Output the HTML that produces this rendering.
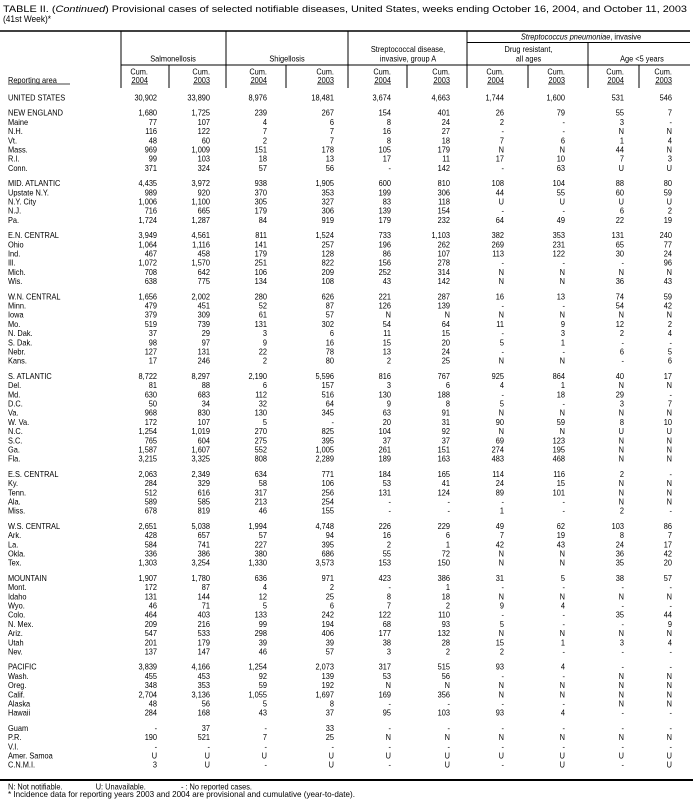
<!DOCTYPE html>
<html><head><meta charset="utf-8"><style>
html,body{margin:0;padding:0;background:#fff;}
svg{display:block;font-family:"Liberation Sans",Arial,sans-serif;fill:#000;}
.d{text-anchor:end;font-size:8.5px;}
.l{font-size:8.5px;}
.h{font-size:8.5px;text-anchor:middle;}
</style></head><body>
<svg width="693" height="804" viewBox="0 0 693 804" xmlns="http://www.w3.org/2000/svg">
<text x="3" y="12" font-size="9.5" textLength="684" lengthAdjust="spacingAndGlyphs">TABLE II. (<tspan font-style="italic">Continued</tspan>) Provisional cases of selected notifiable diseases, United States, weeks ending October 16, 2004, and October 11, 2003</text>
<text x="3" y="22" font-size="9.5" textLength="48" lengthAdjust="spacingAndGlyphs">(41st Week)*</text>
<g stroke="#000" fill="none">
<line x1="0" y1="31" x2="690" y2="31" stroke-width="1.5"/>
<line x1="467" y1="42.5" x2="690" y2="42.5" stroke-width="1"/>
<line x1="121" y1="65" x2="690" y2="65" stroke-width="1"/>
<line x1="121" y1="31" x2="121" y2="88"/>
<line x1="226" y1="31" x2="226" y2="88"/>
<line x1="348" y1="31" x2="348" y2="88"/>
<line x1="467" y1="31" x2="467" y2="88"/>
<line x1="588" y1="42.5" x2="588" y2="88"/>
<line x1="169" y1="65" x2="169" y2="88"/>
<line x1="286" y1="65" x2="286" y2="88"/>
<line x1="407" y1="65" x2="407" y2="88"/>
<line x1="528" y1="65" x2="528" y2="88"/>
<line x1="639" y1="65" x2="639" y2="88"/>
<line x1="0" y1="780" x2="693" y2="780" stroke-width="2"/>
<g stroke-width="0.8">
<line x1="8" y1="84" x2="70" y2="84"/>
<line x1="131" y1="84" x2="148" y2="84"/>
<line x1="193" y1="84" x2="210" y2="84"/>
<line x1="250" y1="84" x2="267" y2="84"/>
<line x1="317" y1="84" x2="334" y2="84"/>
<line x1="374" y1="84" x2="391" y2="84"/>
<line x1="433" y1="84" x2="450" y2="84"/>
<line x1="487" y1="84" x2="504" y2="84"/>
<line x1="548" y1="84" x2="565" y2="84"/>
<line x1="607" y1="84" x2="624" y2="84"/>
<line x1="655" y1="84" x2="672" y2="84"/>
</g>
</g>
<g transform="scale(0.87,1)">
<text class="h" x="667.8" y="39.5"><tspan font-style="italic">Streptococcus pneumoniae</tspan>, invasive</text>
<text class="h" x="469" y="52">Streptococcal disease,</text>
<text class="h" x="469" y="61.5">invasive, group A</text>
<text class="h" x="607.5" y="52">Drug resistant,</text>
<text class="h" x="607.5" y="61.5">all ages</text>
<text class="h" x="198.9" y="61.5">Salmonellosis</text>
<text class="h" x="329.9" y="61.5">Shigellosis</text>
<text class="h" x="737.9" y="61.5">Age &lt;5 years</text>
<text class="d" y="74.5"><tspan x="170.1">Cum.</tspan><tspan x="241.4">Cum.</tspan><tspan x="306.9">Cum.</tspan><tspan x="383.9">Cum.</tspan><tspan x="449.4">Cum.</tspan><tspan x="517.2">Cum.</tspan><tspan x="579.3">Cum.</tspan><tspan x="649.4">Cum.</tspan><tspan x="717.2">Cum.</tspan><tspan x="772.4">Cum.</tspan></text>
<text class="d" y="83"><tspan x="170.1">2004</tspan><tspan x="241.4">2003</tspan><tspan x="306.9">2004</tspan><tspan x="383.9">2003</tspan><tspan x="449.4">2004</tspan><tspan x="517.2">2003</tspan><tspan x="579.3">2004</tspan><tspan x="649.4">2003</tspan><tspan x="717.2">2004</tspan><tspan x="772.4">2003</tspan></text>
<text class="l" x="9.2" y="83">Reporting area</text>

<g class="l">
<text x="9.2" y="100.5">UNITED STATES</text>
<text x="9.2" y="115.7">NEW ENGLAND</text>
<text x="9.2" y="124.9">Maine</text>
<text x="9.2" y="134.1">N.H.</text>
<text x="9.2" y="143.3">Vt.</text>
<text x="9.2" y="152.5">Mass.</text>
<text x="9.2" y="161.7">R.I.</text>
<text x="9.2" y="170.9">Conn.</text>
<text x="9.2" y="186.1">MID. ATLANTIC</text>
<text x="9.2" y="195.3">Upstate N.Y.</text>
<text x="9.2" y="204.5">N.Y. City</text>
<text x="9.2" y="213.7">N.J.</text>
<text x="9.2" y="222.9">Pa.</text>
<text x="9.2" y="238.1">E.N. CENTRAL</text>
<text x="9.2" y="247.3">Ohio</text>
<text x="9.2" y="256.5">Ind.</text>
<text x="9.2" y="265.7">Ill.</text>
<text x="9.2" y="274.9">Mich.</text>
<text x="9.2" y="284.1">Wis.</text>
<text x="9.2" y="299.3">W.N. CENTRAL</text>
<text x="9.2" y="308.5">Minn.</text>
<text x="9.2" y="317.7">Iowa</text>
<text x="9.2" y="326.9">Mo.</text>
<text x="9.2" y="336.1">N. Dak.</text>
<text x="9.2" y="345.3">S. Dak.</text>
<text x="9.2" y="354.5">Nebr.</text>
<text x="9.2" y="363.7">Kans.</text>
<text x="9.2" y="378.9">S. ATLANTIC</text>
<text x="9.2" y="388.1">Del.</text>
<text x="9.2" y="397.3">Md.</text>
<text x="9.2" y="406.5">D.C.</text>
<text x="9.2" y="415.7">Va.</text>
<text x="9.2" y="424.9">W. Va.</text>
<text x="9.2" y="434.1">N.C.</text>
<text x="9.2" y="443.3">S.C.</text>
<text x="9.2" y="452.5">Ga.</text>
<text x="9.2" y="461.7">Fla.</text>
<text x="9.2" y="476.9">E.S. CENTRAL</text>
<text x="9.2" y="486.1">Ky.</text>
<text x="9.2" y="495.3">Tenn.</text>
<text x="9.2" y="504.5">Ala.</text>
<text x="9.2" y="513.7">Miss.</text>
<text x="9.2" y="528.9">W.S. CENTRAL</text>
<text x="9.2" y="538.1">Ark.</text>
<text x="9.2" y="547.3">La.</text>
<text x="9.2" y="556.5">Okla.</text>
<text x="9.2" y="565.7">Tex.</text>
<text x="9.2" y="580.9">MOUNTAIN</text>
<text x="9.2" y="590.1">Mont.</text>
<text x="9.2" y="599.3">Idaho</text>
<text x="9.2" y="608.5">Wyo.</text>
<text x="9.2" y="617.7">Colo.</text>
<text x="9.2" y="626.9">N. Mex.</text>
<text x="9.2" y="636.1">Ariz.</text>
<text x="9.2" y="645.3">Utah</text>
<text x="9.2" y="654.5">Nev.</text>
<text x="9.2" y="669.7">PACIFIC</text>
<text x="9.2" y="678.9">Wash.</text>
<text x="9.2" y="688.1">Oreg.</text>
<text x="9.2" y="697.3">Calif.</text>
<text x="9.2" y="706.5">Alaska</text>
<text x="9.2" y="715.7">Hawaii</text>
<text x="9.2" y="730.9">Guam</text>
<text x="9.2" y="740.1">P.R.</text>
<text x="9.2" y="749.3">V.I.</text>
<text x="9.2" y="758.5">Amer. Samoa</text>
<text x="9.2" y="767.7">C.N.M.I.</text>
</g>

<g class="d">
<text y="100.5"><tspan x="180.5">30,902</tspan><tspan x="241.4">33,890</tspan><tspan x="306.9">8,976</tspan><tspan x="383.9">18,481</tspan><tspan x="449.4">3,674</tspan><tspan x="517.2">4,663</tspan><tspan x="579.3">1,744</tspan><tspan x="649.4">1,600</tspan><tspan x="717.2">531</tspan><tspan x="772.4">546</tspan></text>
<text y="115.7"><tspan x="180.5">1,680</tspan><tspan x="241.4">1,725</tspan><tspan x="306.9">239</tspan><tspan x="383.9">267</tspan><tspan x="449.4">154</tspan><tspan x="517.2">401</tspan><tspan x="579.3">26</tspan><tspan x="649.4">79</tspan><tspan x="717.2">55</tspan><tspan x="772.4">7</tspan></text>
<text y="124.9"><tspan x="180.5">77</tspan><tspan x="241.4">107</tspan><tspan x="306.9">4</tspan><tspan x="383.9">6</tspan><tspan x="449.4">8</tspan><tspan x="517.2">24</tspan><tspan x="579.3">2</tspan><tspan x="649.4">-</tspan><tspan x="717.2">3</tspan><tspan x="772.4">-</tspan></text>
<text y="134.1"><tspan x="180.5">116</tspan><tspan x="241.4">122</tspan><tspan x="306.9">7</tspan><tspan x="383.9">7</tspan><tspan x="449.4">16</tspan><tspan x="517.2">27</tspan><tspan x="579.3">-</tspan><tspan x="649.4">-</tspan><tspan x="717.2">N</tspan><tspan x="772.4">N</tspan></text>
<text y="143.3"><tspan x="180.5">48</tspan><tspan x="241.4">60</tspan><tspan x="306.9">2</tspan><tspan x="383.9">7</tspan><tspan x="449.4">8</tspan><tspan x="517.2">18</tspan><tspan x="579.3">7</tspan><tspan x="649.4">6</tspan><tspan x="717.2">1</tspan><tspan x="772.4">4</tspan></text>
<text y="152.5"><tspan x="180.5">969</tspan><tspan x="241.4">1,009</tspan><tspan x="306.9">151</tspan><tspan x="383.9">178</tspan><tspan x="449.4">105</tspan><tspan x="517.2">179</tspan><tspan x="579.3">N</tspan><tspan x="649.4">N</tspan><tspan x="717.2">44</tspan><tspan x="772.4">N</tspan></text>
<text y="161.7"><tspan x="180.5">99</tspan><tspan x="241.4">103</tspan><tspan x="306.9">18</tspan><tspan x="383.9">13</tspan><tspan x="449.4">17</tspan><tspan x="517.2">11</tspan><tspan x="579.3">17</tspan><tspan x="649.4">10</tspan><tspan x="717.2">7</tspan><tspan x="772.4">3</tspan></text>
<text y="170.9"><tspan x="180.5">371</tspan><tspan x="241.4">324</tspan><tspan x="306.9">57</tspan><tspan x="383.9">56</tspan><tspan x="449.4">-</tspan><tspan x="517.2">142</tspan><tspan x="579.3">-</tspan><tspan x="649.4">63</tspan><tspan x="717.2">U</tspan><tspan x="772.4">U</tspan></text>
<text y="186.1"><tspan x="180.5">4,435</tspan><tspan x="241.4">3,972</tspan><tspan x="306.9">938</tspan><tspan x="383.9">1,905</tspan><tspan x="449.4">600</tspan><tspan x="517.2">810</tspan><tspan x="579.3">108</tspan><tspan x="649.4">104</tspan><tspan x="717.2">88</tspan><tspan x="772.4">80</tspan></text>
<text y="195.3"><tspan x="180.5">989</tspan><tspan x="241.4">920</tspan><tspan x="306.9">370</tspan><tspan x="383.9">353</tspan><tspan x="449.4">199</tspan><tspan x="517.2">306</tspan><tspan x="579.3">44</tspan><tspan x="649.4">55</tspan><tspan x="717.2">60</tspan><tspan x="772.4">59</tspan></text>
<text y="204.5"><tspan x="180.5">1,006</tspan><tspan x="241.4">1,100</tspan><tspan x="306.9">305</tspan><tspan x="383.9">327</tspan><tspan x="449.4">83</tspan><tspan x="517.2">118</tspan><tspan x="579.3">U</tspan><tspan x="649.4">U</tspan><tspan x="717.2">U</tspan><tspan x="772.4">U</tspan></text>
<text y="213.7"><tspan x="180.5">716</tspan><tspan x="241.4">665</tspan><tspan x="306.9">179</tspan><tspan x="383.9">306</tspan><tspan x="449.4">139</tspan><tspan x="517.2">154</tspan><tspan x="579.3">-</tspan><tspan x="649.4">-</tspan><tspan x="717.2">6</tspan><tspan x="772.4">2</tspan></text>
<text y="222.9"><tspan x="180.5">1,724</tspan><tspan x="241.4">1,287</tspan><tspan x="306.9">84</tspan><tspan x="383.9">919</tspan><tspan x="449.4">179</tspan><tspan x="517.2">232</tspan><tspan x="579.3">64</tspan><tspan x="649.4">49</tspan><tspan x="717.2">22</tspan><tspan x="772.4">19</tspan></text>
<text y="238.1"><tspan x="180.5">3,949</tspan><tspan x="241.4">4,561</tspan><tspan x="306.9">811</tspan><tspan x="383.9">1,524</tspan><tspan x="449.4">733</tspan><tspan x="517.2">1,103</tspan><tspan x="579.3">382</tspan><tspan x="649.4">353</tspan><tspan x="717.2">131</tspan><tspan x="772.4">240</tspan></text>
<text y="247.3"><tspan x="180.5">1,064</tspan><tspan x="241.4">1,116</tspan><tspan x="306.9">141</tspan><tspan x="383.9">257</tspan><tspan x="449.4">196</tspan><tspan x="517.2">262</tspan><tspan x="579.3">269</tspan><tspan x="649.4">231</tspan><tspan x="717.2">65</tspan><tspan x="772.4">77</tspan></text>
<text y="256.5"><tspan x="180.5">467</tspan><tspan x="241.4">458</tspan><tspan x="306.9">179</tspan><tspan x="383.9">128</tspan><tspan x="449.4">86</tspan><tspan x="517.2">107</tspan><tspan x="579.3">113</tspan><tspan x="649.4">122</tspan><tspan x="717.2">30</tspan><tspan x="772.4">24</tspan></text>
<text y="265.7"><tspan x="180.5">1,072</tspan><tspan x="241.4">1,570</tspan><tspan x="306.9">251</tspan><tspan x="383.9">822</tspan><tspan x="449.4">156</tspan><tspan x="517.2">278</tspan><tspan x="579.3">-</tspan><tspan x="649.4">-</tspan><tspan x="717.2">-</tspan><tspan x="772.4">96</tspan></text>
<text y="274.9"><tspan x="180.5">708</tspan><tspan x="241.4">642</tspan><tspan x="306.9">106</tspan><tspan x="383.9">209</tspan><tspan x="449.4">252</tspan><tspan x="517.2">314</tspan><tspan x="579.3">N</tspan><tspan x="649.4">N</tspan><tspan x="717.2">N</tspan><tspan x="772.4">N</tspan></text>
<text y="284.1"><tspan x="180.5">638</tspan><tspan x="241.4">775</tspan><tspan x="306.9">134</tspan><tspan x="383.9">108</tspan><tspan x="449.4">43</tspan><tspan x="517.2">142</tspan><tspan x="579.3">N</tspan><tspan x="649.4">N</tspan><tspan x="717.2">36</tspan><tspan x="772.4">43</tspan></text>
<text y="299.3"><tspan x="180.5">1,656</tspan><tspan x="241.4">2,002</tspan><tspan x="306.9">280</tspan><tspan x="383.9">626</tspan><tspan x="449.4">221</tspan><tspan x="517.2">287</tspan><tspan x="579.3">16</tspan><tspan x="649.4">13</tspan><tspan x="717.2">74</tspan><tspan x="772.4">59</tspan></text>
<text y="308.5"><tspan x="180.5">479</tspan><tspan x="241.4">451</tspan><tspan x="306.9">52</tspan><tspan x="383.9">87</tspan><tspan x="449.4">126</tspan><tspan x="517.2">139</tspan><tspan x="579.3">-</tspan><tspan x="649.4">-</tspan><tspan x="717.2">54</tspan><tspan x="772.4">42</tspan></text>
<text y="317.7"><tspan x="180.5">379</tspan><tspan x="241.4">309</tspan><tspan x="306.9">61</tspan><tspan x="383.9">57</tspan><tspan x="449.4">N</tspan><tspan x="517.2">N</tspan><tspan x="579.3">N</tspan><tspan x="649.4">N</tspan><tspan x="717.2">N</tspan><tspan x="772.4">N</tspan></text>
<text y="326.9"><tspan x="180.5">519</tspan><tspan x="241.4">739</tspan><tspan x="306.9">131</tspan><tspan x="383.9">302</tspan><tspan x="449.4">54</tspan><tspan x="517.2">64</tspan><tspan x="579.3">11</tspan><tspan x="649.4">9</tspan><tspan x="717.2">12</tspan><tspan x="772.4">2</tspan></text>
<text y="336.1"><tspan x="180.5">37</tspan><tspan x="241.4">29</tspan><tspan x="306.9">3</tspan><tspan x="383.9">6</tspan><tspan x="449.4">11</tspan><tspan x="517.2">15</tspan><tspan x="579.3">-</tspan><tspan x="649.4">3</tspan><tspan x="717.2">2</tspan><tspan x="772.4">4</tspan></text>
<text y="345.3"><tspan x="180.5">98</tspan><tspan x="241.4">97</tspan><tspan x="306.9">9</tspan><tspan x="383.9">16</tspan><tspan x="449.4">15</tspan><tspan x="517.2">20</tspan><tspan x="579.3">5</tspan><tspan x="649.4">1</tspan><tspan x="717.2">-</tspan><tspan x="772.4">-</tspan></text>
<text y="354.5"><tspan x="180.5">127</tspan><tspan x="241.4">131</tspan><tspan x="306.9">22</tspan><tspan x="383.9">78</tspan><tspan x="449.4">13</tspan><tspan x="517.2">24</tspan><tspan x="579.3">-</tspan><tspan x="649.4">-</tspan><tspan x="717.2">6</tspan><tspan x="772.4">5</tspan></text>
<text y="363.7"><tspan x="180.5">17</tspan><tspan x="241.4">246</tspan><tspan x="306.9">2</tspan><tspan x="383.9">80</tspan><tspan x="449.4">2</tspan><tspan x="517.2">25</tspan><tspan x="579.3">N</tspan><tspan x="649.4">N</tspan><tspan x="717.2">-</tspan><tspan x="772.4">6</tspan></text>
<text y="378.9"><tspan x="180.5">8,722</tspan><tspan x="241.4">8,297</tspan><tspan x="306.9">2,190</tspan><tspan x="383.9">5,596</tspan><tspan x="449.4">816</tspan><tspan x="517.2">767</tspan><tspan x="579.3">925</tspan><tspan x="649.4">864</tspan><tspan x="717.2">40</tspan><tspan x="772.4">17</tspan></text>
<text y="388.1"><tspan x="180.5">81</tspan><tspan x="241.4">88</tspan><tspan x="306.9">6</tspan><tspan x="383.9">157</tspan><tspan x="449.4">3</tspan><tspan x="517.2">6</tspan><tspan x="579.3">4</tspan><tspan x="649.4">1</tspan><tspan x="717.2">N</tspan><tspan x="772.4">N</tspan></text>
<text y="397.3"><tspan x="180.5">630</tspan><tspan x="241.4">683</tspan><tspan x="306.9">112</tspan><tspan x="383.9">516</tspan><tspan x="449.4">130</tspan><tspan x="517.2">188</tspan><tspan x="579.3">-</tspan><tspan x="649.4">18</tspan><tspan x="717.2">29</tspan><tspan x="772.4">-</tspan></text>
<text y="406.5"><tspan x="180.5">50</tspan><tspan x="241.4">34</tspan><tspan x="306.9">32</tspan><tspan x="383.9">64</tspan><tspan x="449.4">9</tspan><tspan x="517.2">8</tspan><tspan x="579.3">5</tspan><tspan x="649.4">-</tspan><tspan x="717.2">3</tspan><tspan x="772.4">7</tspan></text>
<text y="415.7"><tspan x="180.5">968</tspan><tspan x="241.4">830</tspan><tspan x="306.9">130</tspan><tspan x="383.9">345</tspan><tspan x="449.4">63</tspan><tspan x="517.2">91</tspan><tspan x="579.3">N</tspan><tspan x="649.4">N</tspan><tspan x="717.2">N</tspan><tspan x="772.4">N</tspan></text>
<text y="424.9"><tspan x="180.5">172</tspan><tspan x="241.4">107</tspan><tspan x="306.9">5</tspan><tspan x="383.9">-</tspan><tspan x="449.4">20</tspan><tspan x="517.2">31</tspan><tspan x="579.3">90</tspan><tspan x="649.4">59</tspan><tspan x="717.2">8</tspan><tspan x="772.4">10</tspan></text>
<text y="434.1"><tspan x="180.5">1,254</tspan><tspan x="241.4">1,019</tspan><tspan x="306.9">270</tspan><tspan x="383.9">825</tspan><tspan x="449.4">104</tspan><tspan x="517.2">92</tspan><tspan x="579.3">N</tspan><tspan x="649.4">N</tspan><tspan x="717.2">U</tspan><tspan x="772.4">U</tspan></text>
<text y="443.3"><tspan x="180.5">765</tspan><tspan x="241.4">604</tspan><tspan x="306.9">275</tspan><tspan x="383.9">395</tspan><tspan x="449.4">37</tspan><tspan x="517.2">37</tspan><tspan x="579.3">69</tspan><tspan x="649.4">123</tspan><tspan x="717.2">N</tspan><tspan x="772.4">N</tspan></text>
<text y="452.5"><tspan x="180.5">1,587</tspan><tspan x="241.4">1,607</tspan><tspan x="306.9">552</tspan><tspan x="383.9">1,005</tspan><tspan x="449.4">261</tspan><tspan x="517.2">151</tspan><tspan x="579.3">274</tspan><tspan x="649.4">195</tspan><tspan x="717.2">N</tspan><tspan x="772.4">N</tspan></text>
<text y="461.7"><tspan x="180.5">3,215</tspan><tspan x="241.4">3,325</tspan><tspan x="306.9">808</tspan><tspan x="383.9">2,289</tspan><tspan x="449.4">189</tspan><tspan x="517.2">163</tspan><tspan x="579.3">483</tspan><tspan x="649.4">468</tspan><tspan x="717.2">N</tspan><tspan x="772.4">N</tspan></text>
<text y="476.9"><tspan x="180.5">2,063</tspan><tspan x="241.4">2,349</tspan><tspan x="306.9">634</tspan><tspan x="383.9">771</tspan><tspan x="449.4">184</tspan><tspan x="517.2">165</tspan><tspan x="579.3">114</tspan><tspan x="649.4">116</tspan><tspan x="717.2">2</tspan><tspan x="772.4">-</tspan></text>
<text y="486.1"><tspan x="180.5">284</tspan><tspan x="241.4">329</tspan><tspan x="306.9">58</tspan><tspan x="383.9">106</tspan><tspan x="449.4">53</tspan><tspan x="517.2">41</tspan><tspan x="579.3">24</tspan><tspan x="649.4">15</tspan><tspan x="717.2">N</tspan><tspan x="772.4">N</tspan></text>
<text y="495.3"><tspan x="180.5">512</tspan><tspan x="241.4">616</tspan><tspan x="306.9">317</tspan><tspan x="383.9">256</tspan><tspan x="449.4">131</tspan><tspan x="517.2">124</tspan><tspan x="579.3">89</tspan><tspan x="649.4">101</tspan><tspan x="717.2">N</tspan><tspan x="772.4">N</tspan></text>
<text y="504.5"><tspan x="180.5">589</tspan><tspan x="241.4">585</tspan><tspan x="306.9">213</tspan><tspan x="383.9">254</tspan><tspan x="449.4">-</tspan><tspan x="517.2">-</tspan><tspan x="579.3">-</tspan><tspan x="649.4">-</tspan><tspan x="717.2">N</tspan><tspan x="772.4">N</tspan></text>
<text y="513.7"><tspan x="180.5">678</tspan><tspan x="241.4">819</tspan><tspan x="306.9">46</tspan><tspan x="383.9">155</tspan><tspan x="449.4">-</tspan><tspan x="517.2">-</tspan><tspan x="579.3">1</tspan><tspan x="649.4">-</tspan><tspan x="717.2">2</tspan><tspan x="772.4">-</tspan></text>
<text y="528.9"><tspan x="180.5">2,651</tspan><tspan x="241.4">5,038</tspan><tspan x="306.9">1,994</tspan><tspan x="383.9">4,748</tspan><tspan x="449.4">226</tspan><tspan x="517.2">229</tspan><tspan x="579.3">49</tspan><tspan x="649.4">62</tspan><tspan x="717.2">103</tspan><tspan x="772.4">86</tspan></text>
<text y="538.1"><tspan x="180.5">428</tspan><tspan x="241.4">657</tspan><tspan x="306.9">57</tspan><tspan x="383.9">94</tspan><tspan x="449.4">16</tspan><tspan x="517.2">6</tspan><tspan x="579.3">7</tspan><tspan x="649.4">19</tspan><tspan x="717.2">8</tspan><tspan x="772.4">7</tspan></text>
<text y="547.3"><tspan x="180.5">584</tspan><tspan x="241.4">741</tspan><tspan x="306.9">227</tspan><tspan x="383.9">395</tspan><tspan x="449.4">2</tspan><tspan x="517.2">1</tspan><tspan x="579.3">42</tspan><tspan x="649.4">43</tspan><tspan x="717.2">24</tspan><tspan x="772.4">17</tspan></text>
<text y="556.5"><tspan x="180.5">336</tspan><tspan x="241.4">386</tspan><tspan x="306.9">380</tspan><tspan x="383.9">686</tspan><tspan x="449.4">55</tspan><tspan x="517.2">72</tspan><tspan x="579.3">N</tspan><tspan x="649.4">N</tspan><tspan x="717.2">36</tspan><tspan x="772.4">42</tspan></text>
<text y="565.7"><tspan x="180.5">1,303</tspan><tspan x="241.4">3,254</tspan><tspan x="306.9">1,330</tspan><tspan x="383.9">3,573</tspan><tspan x="449.4">153</tspan><tspan x="517.2">150</tspan><tspan x="579.3">N</tspan><tspan x="649.4">N</tspan><tspan x="717.2">35</tspan><tspan x="772.4">20</tspan></text>
<text y="580.9"><tspan x="180.5">1,907</tspan><tspan x="241.4">1,780</tspan><tspan x="306.9">636</tspan><tspan x="383.9">971</tspan><tspan x="449.4">423</tspan><tspan x="517.2">386</tspan><tspan x="579.3">31</tspan><tspan x="649.4">5</tspan><tspan x="717.2">38</tspan><tspan x="772.4">57</tspan></text>
<text y="590.1"><tspan x="180.5">172</tspan><tspan x="241.4">87</tspan><tspan x="306.9">4</tspan><tspan x="383.9">2</tspan><tspan x="449.4">-</tspan><tspan x="517.2">1</tspan><tspan x="579.3">-</tspan><tspan x="649.4">-</tspan><tspan x="717.2">-</tspan><tspan x="772.4">-</tspan></text>
<text y="599.3"><tspan x="180.5">131</tspan><tspan x="241.4">144</tspan><tspan x="306.9">12</tspan><tspan x="383.9">25</tspan><tspan x="449.4">8</tspan><tspan x="517.2">18</tspan><tspan x="579.3">N</tspan><tspan x="649.4">N</tspan><tspan x="717.2">N</tspan><tspan x="772.4">N</tspan></text>
<text y="608.5"><tspan x="180.5">46</tspan><tspan x="241.4">71</tspan><tspan x="306.9">5</tspan><tspan x="383.9">6</tspan><tspan x="449.4">7</tspan><tspan x="517.2">2</tspan><tspan x="579.3">9</tspan><tspan x="649.4">4</tspan><tspan x="717.2">-</tspan><tspan x="772.4">-</tspan></text>
<text y="617.7"><tspan x="180.5">464</tspan><tspan x="241.4">403</tspan><tspan x="306.9">133</tspan><tspan x="383.9">242</tspan><tspan x="449.4">122</tspan><tspan x="517.2">110</tspan><tspan x="579.3">-</tspan><tspan x="649.4">-</tspan><tspan x="717.2">35</tspan><tspan x="772.4">44</tspan></text>
<text y="626.9"><tspan x="180.5">209</tspan><tspan x="241.4">216</tspan><tspan x="306.9">99</tspan><tspan x="383.9">194</tspan><tspan x="449.4">68</tspan><tspan x="517.2">93</tspan><tspan x="579.3">5</tspan><tspan x="649.4">-</tspan><tspan x="717.2">-</tspan><tspan x="772.4">9</tspan></text>
<text y="636.1"><tspan x="180.5">547</tspan><tspan x="241.4">533</tspan><tspan x="306.9">298</tspan><tspan x="383.9">406</tspan><tspan x="449.4">177</tspan><tspan x="517.2">132</tspan><tspan x="579.3">N</tspan><tspan x="649.4">N</tspan><tspan x="717.2">N</tspan><tspan x="772.4">N</tspan></text>
<text y="645.3"><tspan x="180.5">201</tspan><tspan x="241.4">179</tspan><tspan x="306.9">39</tspan><tspan x="383.9">39</tspan><tspan x="449.4">38</tspan><tspan x="517.2">28</tspan><tspan x="579.3">15</tspan><tspan x="649.4">1</tspan><tspan x="717.2">3</tspan><tspan x="772.4">4</tspan></text>
<text y="654.5"><tspan x="180.5">137</tspan><tspan x="241.4">147</tspan><tspan x="306.9">46</tspan><tspan x="383.9">57</tspan><tspan x="449.4">3</tspan><tspan x="517.2">2</tspan><tspan x="579.3">2</tspan><tspan x="649.4">-</tspan><tspan x="717.2">-</tspan><tspan x="772.4">-</tspan></text>
<text y="669.7"><tspan x="180.5">3,839</tspan><tspan x="241.4">4,166</tspan><tspan x="306.9">1,254</tspan><tspan x="383.9">2,073</tspan><tspan x="449.4">317</tspan><tspan x="517.2">515</tspan><tspan x="579.3">93</tspan><tspan x="649.4">4</tspan><tspan x="717.2">-</tspan><tspan x="772.4">-</tspan></text>
<text y="678.9"><tspan x="180.5">455</tspan><tspan x="241.4">453</tspan><tspan x="306.9">92</tspan><tspan x="383.9">139</tspan><tspan x="449.4">53</tspan><tspan x="517.2">56</tspan><tspan x="579.3">-</tspan><tspan x="649.4">-</tspan><tspan x="717.2">N</tspan><tspan x="772.4">N</tspan></text>
<text y="688.1"><tspan x="180.5">348</tspan><tspan x="241.4">353</tspan><tspan x="306.9">59</tspan><tspan x="383.9">192</tspan><tspan x="449.4">N</tspan><tspan x="517.2">N</tspan><tspan x="579.3">N</tspan><tspan x="649.4">N</tspan><tspan x="717.2">N</tspan><tspan x="772.4">N</tspan></text>
<text y="697.3"><tspan x="180.5">2,704</tspan><tspan x="241.4">3,136</tspan><tspan x="306.9">1,055</tspan><tspan x="383.9">1,697</tspan><tspan x="449.4">169</tspan><tspan x="517.2">356</tspan><tspan x="579.3">N</tspan><tspan x="649.4">N</tspan><tspan x="717.2">N</tspan><tspan x="772.4">N</tspan></text>
<text y="706.5"><tspan x="180.5">48</tspan><tspan x="241.4">56</tspan><tspan x="306.9">5</tspan><tspan x="383.9">8</tspan><tspan x="449.4">-</tspan><tspan x="517.2">-</tspan><tspan x="579.3">-</tspan><tspan x="649.4">-</tspan><tspan x="717.2">N</tspan><tspan x="772.4">N</tspan></text>
<text y="715.7"><tspan x="180.5">284</tspan><tspan x="241.4">168</tspan><tspan x="306.9">43</tspan><tspan x="383.9">37</tspan><tspan x="449.4">95</tspan><tspan x="517.2">103</tspan><tspan x="579.3">93</tspan><tspan x="649.4">4</tspan><tspan x="717.2">-</tspan><tspan x="772.4">-</tspan></text>
<text y="730.9"><tspan x="180.5">-</tspan><tspan x="241.4">37</tspan><tspan x="306.9">-</tspan><tspan x="383.9">33</tspan><tspan x="449.4">-</tspan><tspan x="517.2">-</tspan><tspan x="579.3">-</tspan><tspan x="649.4">-</tspan><tspan x="717.2">-</tspan><tspan x="772.4">-</tspan></text>
<text y="740.1"><tspan x="180.5">190</tspan><tspan x="241.4">521</tspan><tspan x="306.9">7</tspan><tspan x="383.9">25</tspan><tspan x="449.4">N</tspan><tspan x="517.2">N</tspan><tspan x="579.3">N</tspan><tspan x="649.4">N</tspan><tspan x="717.2">N</tspan><tspan x="772.4">N</tspan></text>
<text y="749.3"><tspan x="180.5">-</tspan><tspan x="241.4">-</tspan><tspan x="306.9">-</tspan><tspan x="383.9">-</tspan><tspan x="449.4">-</tspan><tspan x="517.2">-</tspan><tspan x="579.3">-</tspan><tspan x="649.4">-</tspan><tspan x="717.2">-</tspan><tspan x="772.4">-</tspan></text>
<text y="758.5"><tspan x="180.5">U</tspan><tspan x="241.4">U</tspan><tspan x="306.9">U</tspan><tspan x="383.9">U</tspan><tspan x="449.4">U</tspan><tspan x="517.2">U</tspan><tspan x="579.3">U</tspan><tspan x="649.4">U</tspan><tspan x="717.2">U</tspan><tspan x="772.4">U</tspan></text>
<text y="767.7"><tspan x="180.5">3</tspan><tspan x="241.4">U</tspan><tspan x="306.9">-</tspan><tspan x="383.9">U</tspan><tspan x="449.4">-</tspan><tspan x="517.2">U</tspan><tspan x="579.3">-</tspan><tspan x="649.4">U</tspan><tspan x="717.2">-</tspan><tspan x="772.4">U</tspan></text>
</g>
<g class="l">
<text x="9.2" y="789.5">N: Not notifiable.</text>
<text x="110" y="789.5">U: Unavailable.</text>
<text x="208" y="789.5">- : No reported cases.</text>
</g>
</g>
<text x="8" y="797" font-size="8.5" textLength="347" lengthAdjust="spacingAndGlyphs">* Incidence data for reporting years 2003 and 2004 are provisional and cumulative (year-to-date).</text>
</svg>
</body></html>
